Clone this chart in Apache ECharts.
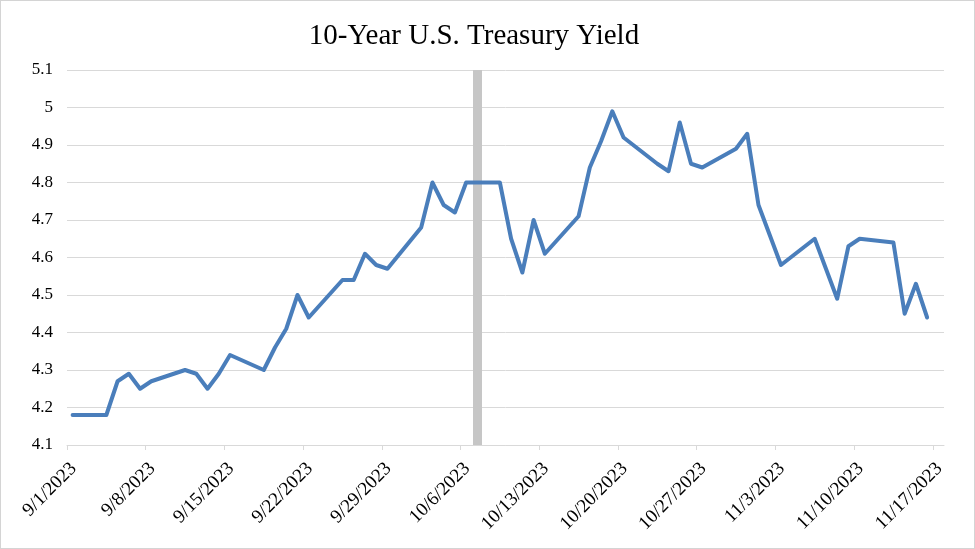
<!DOCTYPE html>
<html>
<head>
<meta charset="utf-8">
<script src="https://cdn.jsdelivr.net/npm/echarts@6/dist/echarts.min.js"></script>
<style>
  html, body { margin: 0; padding: 0; background: #fff; }
  #chart-container { width: 975px; height: 549px; box-sizing: border-box; border: 1px solid #d4d4d4; }
</style>
</head>
<body>
<div id="chart-container"></div>
<script>
// 10-year treasury yield, trading days (9/4 and 10/9 carried flat)
const dates = [
  "9/1/2023", "9/4/2023", "9/5/2023", "9/6/2023", "9/7/2023", "9/8/2023",
  "9/11/2023", "9/12/2023", "9/13/2023", "9/14/2023", "9/15/2023",
  "9/18/2023", "9/19/2023", "9/20/2023", "9/21/2023", "9/22/2023",
  "9/25/2023", "9/26/2023", "9/27/2023", "9/28/2023", "9/29/2023",
  "10/2/2023", "10/3/2023", "10/4/2023", "10/5/2023", "10/6/2023",
  "10/9/2023", "10/10/2023", "10/11/2023", "10/12/2023", "10/13/2023",
  "10/16/2023", "10/17/2023", "10/18/2023", "10/19/2023", "10/20/2023",
  "10/23/2023", "10/24/2023", "10/25/2023", "10/26/2023", "10/27/2023",
  "10/30/2023", "10/31/2023", "11/1/2023", "11/2/2023", "11/3/2023",
  "11/6/2023", "11/7/2023", "11/8/2023", "11/9/2023", "11/10/2023",
  "11/13/2023", "11/14/2023", "11/15/2023", "11/16/2023"
]

const yields = [
  4.18, 4.18, 4.27, 4.29, 4.25, 4.27,
  4.30, 4.29, 4.25, 4.29, 4.34,
  4.30, 4.36, 4.41, 4.50, 4.44,
  4.54, 4.54, 4.61, 4.58, 4.57,
  4.68, 4.80, 4.74, 4.72, 4.80,
  4.80, 4.65, 4.56, 4.70, 4.61,
  4.71, 4.84, 4.91, 4.99, 4.92,
  4.85, 4.83, 4.96, 4.85, 4.84,
  4.89, 4.93, 4.74, 4.66, 4.58,
  4.65, 4.57, 4.49, 4.63, 4.65,
  4.64, 4.45, 4.53, 4.44
]

const xTickLabels = [
  "9/1/2023", "9/8/2023", "9/15/2023", "9/22/2023", "9/29/2023", "10/6/2023",
  "10/13/2023", "10/20/2023", "10/27/2023", "11/3/2023", "11/10/2023", "11/17/2023"
]

const axisEndDate = "11/18/2023"
const eventDate = "10/7/2023"

const DAY = 86400000
const toMs = (s) => {
  const [m, d, y] = s.split("/").map(Number)
  return Date.UTC(y, m - 1, d)
}
const start = toMs(dates[0])
const dayOffset = (s) => Math.round((toMs(s) - start) / DAY)
const offsetToLabel = (v) => {
  const dt = new Date(start + v * DAY)
  return `${dt.getUTCMonth() + 1}/${dt.getUTCDate()}/${dt.getUTCFullYear()}`
}

const tickValues = xTickLabels.map(dayOffset)

var dom = document.getElementById("chart-container")
var myChart = echarts.init(dom, null, { renderer: "canvas" })

const labelFont = "'Liberation Serif', 'Times New Roman', serif"

var option = {
  animation: false,
  title: {
    text: "10-Year U.S. Treasury Yield",
    left: 468,
    top: 16,
    textAlign: "center",
    textStyle: {
      fontFamily: labelFont,
      fontSize: 29,
      fontWeight: "normal",
      color: "#000"
    }
  },
  grid: {
    left: 66,
    right: 30,
    top: 69,
    bottom: 103,
    containLabel: false
  },
  xAxis: {
    type: "value",
    min: 0,
    max: dayOffset(axisEndDate),
    interval: 7,
    splitLine: { show: false },
    axisLine: { show: true, lineStyle: { color: "#d9d9d9", width: 1 } },
    axisTick: {
      show: true,
      length: 5,
      customValues: tickValues,
      lineStyle: { color: "#d9d9d9" }
    },
    axisLabel: {
      customValues: tickValues,
      rotate: 45,
      margin: 14,
      verticalAlign: "top",
      fontFamily: labelFont,
      fontSize: 19,
      color: "#000",
      formatter: (v) => offsetToLabel(v)
    }
  },
  yAxis: {
    type: "value",
    min: 4.1,
    max: 5.1,
    interval: 0.1,
    axisLine: { show: false },
    axisTick: { show: false },
    splitLine: { lineStyle: { color: "#d9d9d9", width: 1 } },
    axisLabel: {
      margin: 14,
      fontFamily: labelFont,
      fontSize: 17,
      color: "#000",
      formatter: (v) => String(Math.round(v * 10) / 10)
    }
  },
  series: [
    {
      type: "line",
      data: dates.map((d, i) => [dayOffset(d) + 0.5, yields[i]]),
      showSymbol: false,
      symbol: "none",
      lineStyle: { color: "#4a7ebb", width: 4, join: "round", cap: "round" },
      markLine: {
        silent: true,
        symbol: ["none", "none"],
        label: { show: false },
        lineStyle: { color: "#c6c6c6", width: 9, type: "solid" },
        data: [{ xAxis: dayOffset(eventDate) + 0.5 }],
        z: 1
      },
      z: 3
    }
  ]
}

myChart.setOption(option)
</script>
</body>
</html>
